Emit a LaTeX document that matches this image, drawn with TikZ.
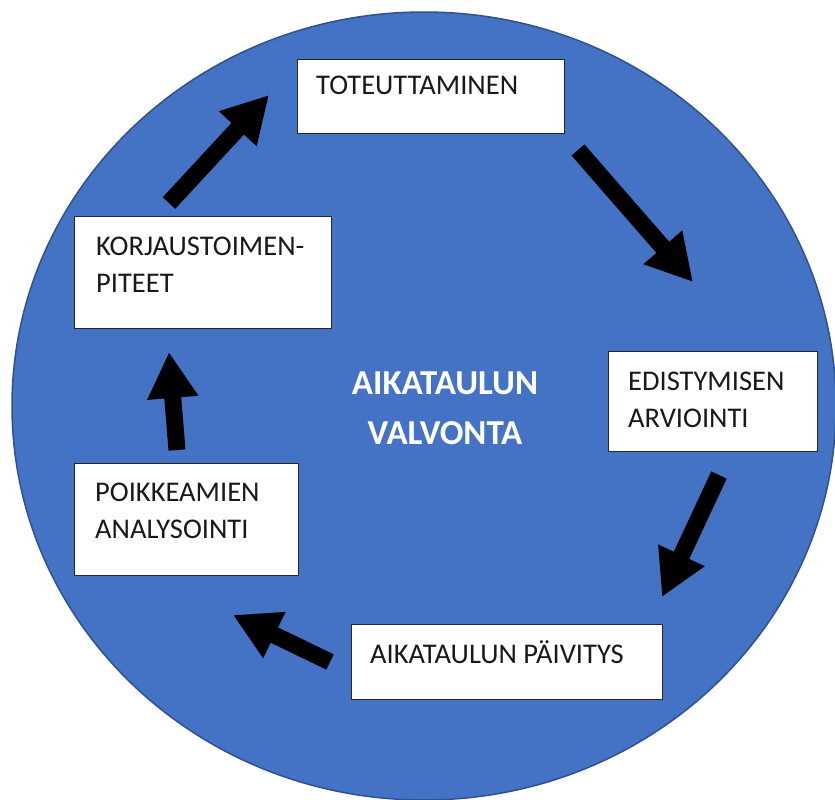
\documentclass[tikz,border=0pt]{standalone}
\usepackage{fontspec}
\setmainfont{Carlito}
\usetikzlibrary{arrows.meta}
\definecolor{circblue}{HTML}{4472C4}
\definecolor{circedge}{HTML}{2F528F}
\tikzset{
  stagebox/.style={draw=black!85, line width=1pt, fill=white, rectangle, inner sep=0pt},
  stagetext/.style={inner sep=0pt, align=left, font=\fontsize{28.5}{36.5}\selectfont, text=black!90},
  bigarrow/.style={line width=17pt, black, -{Triangle[length=46pt,width=48pt]}}
}
\begin{document}
\begin{tikzpicture}[x=1pt,y=-1pt]
\useasboundingbox (0,0) rectangle (835,800);
\fill[white] (0,0) rectangle (835,800);
% big circle
\draw[fill=circblue, draw=circedge, line width=1.5pt] (424,406) ellipse [x radius=412, y radius=394];
% boxes
\node[stagebox, minimum width=267pt, minimum height=74pt, anchor=north west] (tot) at (297,59) {};
\node[stagebox, minimum width=257pt, minimum height=112pt, anchor=north west] (kor) at (74,216) {};
\node[stagebox, minimum width=209pt, minimum height=100pt, anchor=north west] (edi) at (608,351) {};
\node[stagebox, minimum width=224pt, minimum height=112pt, anchor=north west] (poi) at (74,463) {};
\node[stagebox, minimum width=311pt, minimum height=75pt, anchor=north west] (aik) at (351,624) {};
% texts
\node[stagetext, anchor=base west] (totT) at (316,95) {TOTEUTTAMINEN};
\node[stagetext, anchor=north west] (korT) at (96,237) {KORJAUSTOIMEN-\\PITEET};
\node[stagetext, anchor=north west] (ediT) at (628,372) {EDISTYMISEN\\ARVIOINTI};
\node[stagetext, anchor=north west] (poiT) at (95,483) {POIKKEAMIEN\\ANALYSOINTI};
\node[stagetext, anchor=base west] (aikT) at (370,663) {AIKATAULUN PÄIVITYS};
% centre title
\node[inner sep=0pt, align=center, text=white, font=\bfseries\fontsize{35}{50}\selectfont, anchor=north] (title) at (445,372) {AIKATAULUN\\VALVONTA};
% arrow end points
\coordinate (a1s) at (169,203); \coordinate (a1e) at (269,95);
\coordinate (a2s) at (578,150); \coordinate (a2e) at (693,282);
\coordinate (a3s) at (719,475); \coordinate (a3e) at (662,597);
\coordinate (a4s) at (330,662); \coordinate (a4e) at (233,615);
\coordinate (a5s) at (177,450); \coordinate (a5e) at (169,352);
\draw[bigarrow] (a1s) -- (a1e);
\draw[bigarrow] (a2s) -- (a2e);
\draw[bigarrow] (a3s) -- (a3e);
\draw[bigarrow] (a4s) -- (a4e);
\draw[bigarrow] (a5s) -- (a5e);
\end{tikzpicture}
\end{document}
